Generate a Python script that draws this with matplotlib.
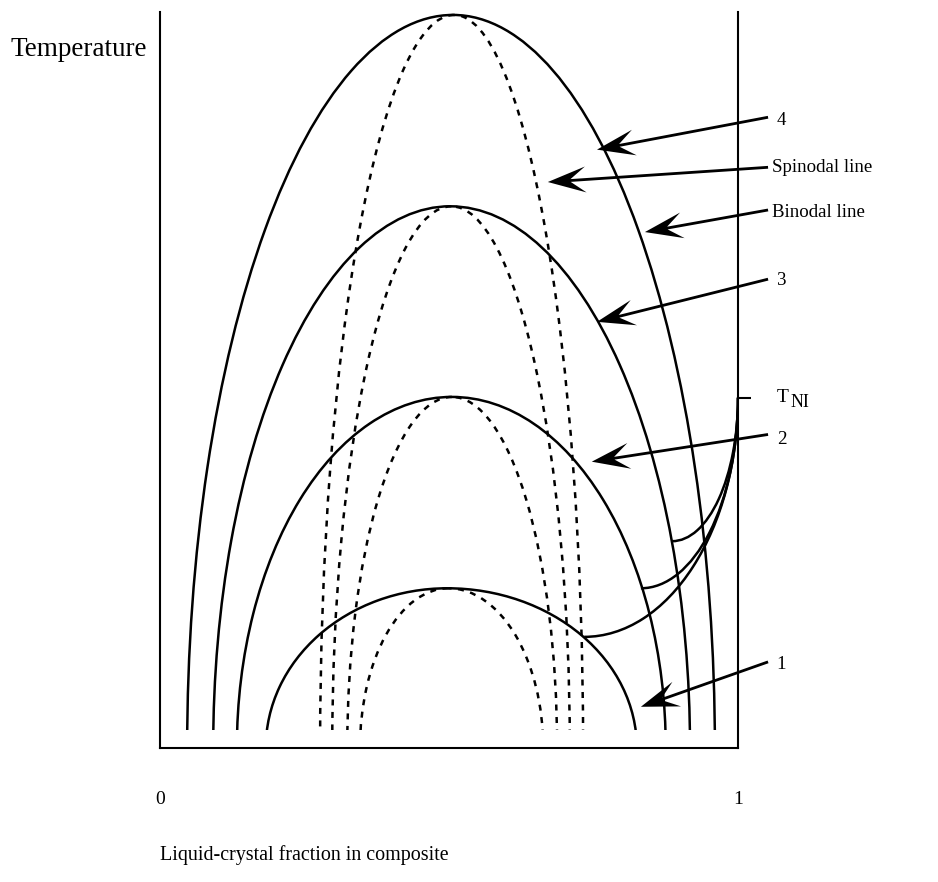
import matplotlib
matplotlib.use("Agg")
import matplotlib.pyplot as plt
from matplotlib.patches import Arc, Rectangle, FancyArrow

plt.rcParams['font.family'] = ['Liberation Serif', 'DejaVu Serif']

# ---------------- data (x = liquid-crystal fraction, T = temperature, arbitrary units) ----------
T_bottom = 2.4          # lowest temperature drawn for the coexistence curves
# binodal lines (solid), curves 4..1: critical point and compositions at the lowest temperature
binodal_xc = [0.507, 0.502, 0.505, 0.497]
binodal_Tc = [99.6, 73.6, 47.7, 21.7]
binodal_x_low = [0.047, 0.092, 0.133, 0.183]
binodal_x_high = [0.960, 0.917, 0.875, 0.825]

# spinodal lines (dashed), curves 4..1
spinodal_xc = [0.509, 0.504, 0.505, 0.499]
spinodal_Tc = [99.6, 73.6, 47.7, 21.7]
spinodal_x_low = [0.277, 0.298, 0.324, 0.346]
spinodal_x_high = [0.732, 0.709, 0.687, 0.663]

# nematic-isotropic lines from T_NI (x = 1) to the binodals 3, 2, 1
t_ni = 47.6
ni_end_x = [0.886, 0.832, 0.734]
ni_end_T = [28.1, 21.7, 15.1]

# annotations
label_texts = ['4', 'Spinodal line', 'Binodal line', '3', '2', '1']
label_x = [1.067, 1.059, 1.059, 1.067, 1.067, 1.067]
label_T = [85.2, 78.9, 72.8, 63.5, 41.9, 11.4]
arrow_tail_x = [1.052, 1.052, 1.052, 1.052, 1.052, 1.052]
arrow_tail_T = [85.7, 78.9, 73.1, 63.7, 42.6, 11.7]
arrow_tip_x = [0.756, 0.671, 0.839, 0.756, 0.747, 0.832]
arrow_tip_T = [81.3, 76.9, 70.1, 57.9, 38.9, 5.6]

x_tick_labels = ['0', '1']

fig = plt.figure(figsize=(9.38, 8.82), dpi=100)
ax = fig.add_axes([160 / 938, 134 / 882, 578 / 938, 736 / 882])
ax.set_xlim(0, 1)
ax.set_ylim(0, 100)
ax.spines['top'].set_visible(False)
for s in ['left', 'right', 'bottom']:
    ax.spines[s].set_linewidth(1.5)

clip_rect = Rectangle((0, T_bottom), 1, 100, transform=ax.transData)

solid_kw = dict(color='black', lw=1.8)
dash_kw = dict(color='black', lw=1.8, linestyle=(0, (2.4, 2.6)))


def dome(xc, Tc, xl, xr, kw):
    # left and right quarters of an elliptic coexistence curve
    left = Arc((xc, 0), 2 * (xc - xl), 2 * Tc, theta1=90, theta2=180, **kw)
    right = Arc((xc, 0), 2 * (xr - xc), 2 * Tc, theta1=0, theta2=90, **kw)
    for a in (left, right):
        ax.add_patch(a)
        a.set_clip_path(clip_rect)


for xc, Tc, xl, xr in zip(binodal_xc, binodal_Tc, binodal_x_low, binodal_x_high):
    dome(xc, Tc, xl, xr, solid_kw)

for xc, Tc, xl, xr in zip(spinodal_xc, spinodal_Tc, spinodal_x_low, spinodal_x_high):
    dome(xc, Tc, xl, xr, dash_kw)

for xe, te in zip(ni_end_x, ni_end_T):
    a = Arc((xe, t_ni), 2 * (1 - xe), 2 * (t_ni - te), theta1=270, theta2=360, **solid_kw)
    ax.add_patch(a)

# ticks
ax.set_xticks([0, 1])
ax.set_xticklabels(x_tick_labels, fontsize=14)
ax.tick_params(axis='x', length=0, pad=31)
ax.yaxis.tick_right()
ax.set_yticks([t_ni])
ax.set_yticklabels([''])
ax.tick_params(axis='y', direction='out', length=9, width=1.5)
ax.annotate('T', xy=(1, t_ni), xytext=(28, 0), textcoords='offset points',
            fontsize=14, va='center', ha='left', annotation_clip=False)
ax.annotate('NI', xy=(1, t_ni), xytext=(37.5, -3.5), textcoords='offset points',
            fontsize=13, va='center', ha='left', annotation_clip=False)

# labels
fig.text(10 / 938, 1 - 50 / 882, 'Temperature', fontsize=19.5, va='center', ha='left')
fig.text(160 / 938, 1 - 855 / 882, 'Liquid-crystal fraction in composite', fontsize=14.4,
         va='center', ha='left')

for txt, lx, lt in zip(label_texts, label_x, label_T):
    ax.text(lx, lt, txt, fontsize=13.6, va='center', ha='left', clip_on=False)

# arrows with notched heads, built in inch space so the head is not distorted
for tx, tt, hx, ht in zip(arrow_tail_x, arrow_tail_T, arrow_tip_x, arrow_tip_T):
    p0 = ax.transData.transform((tx, tt)) / fig.dpi
    p1 = ax.transData.transform((hx, ht)) / fig.dpi
    arr = FancyArrow(p0[0], p0[1], p1[0] - p0[0], p1[1] - p0[1], width=0.028,
                     head_width=0.26, head_length=0.38, overhang=0.4,
                     length_includes_head=True, transform=fig.dpi_scale_trans,
                     color='black', lw=0, clip_on=False)
    fig.add_artist(arr)

fig.savefig('out.png', dpi=100)
